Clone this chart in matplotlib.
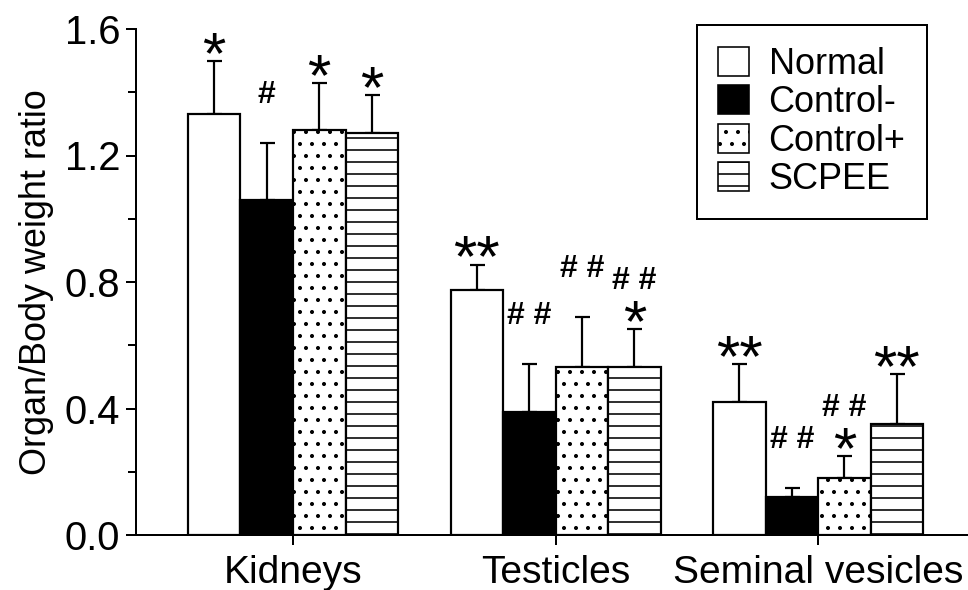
import numpy as np
import matplotlib.pyplot as plt
from matplotlib.patches import Patch

plt.rcParams['font.family'] = ['Liberation Sans', 'DejaVu Sans']
plt.rcParams['hatch.linewidth'] = 1.6

# data
organs = ['Kidneys', 'Testicles', 'Seminal vesicles']
groups = ['Normal', 'Control-', 'Control+', 'SCPEE']
normal     = [1.33, 0.775, 0.42]
control_m  = [1.06, 0.39, 0.12]
control_p  = [1.28, 0.53, 0.18]
scpee      = [1.27, 0.53, 0.35]
normal_err    = [0.17, 0.08, 0.12]
control_m_err = [0.18, 0.15, 0.03]
control_p_err = [0.15, 0.16, 0.07]
scpee_err     = [0.12, 0.12, 0.16]
# significance marks: (star mark, hash mark)
normal_sig    = [('*', ''), ('**', ''), ('**', '')]
control_m_sig = [('', '#'), ('', '# #'), ('', '# #')]
control_p_sig = [('*', ''), ('', '# #'), ('*', '# #')]
scpee_sig     = [('*', ''), ('*', '# #'), ('**', '')]

means = [normal, control_m, control_p, scpee]
errs  = [normal_err, control_m_err, control_p_err, scpee_err]
sigs  = [normal_sig, control_m_sig, control_p_sig, scpee_sig]
colors  = ['white', 'black', 'white', 'white']
hatches = [None, None, '.', '-']

fig = plt.figure(figsize=(968/72, 590/72), dpi=72)
ax = fig.add_axes([136/968, 55/590, 832/968, 506/590])

x = np.arange(len(organs))
w = 0.2
for i, g in enumerate(groups):
    xs = x + (i - 1.5) * w
    ax.bar(xs, means[i], w, color=colors[i], edgecolor='black', linewidth=2.2,
           hatch=hatches[i], label=g, zorder=2)
    ax.errorbar(xs, means[i], yerr=[np.zeros(len(organs)), errs[i]], fmt='none',
                ecolor='black', elinewidth=2.2, capsize=7.5, capthick=2.2, zorder=1)
    for j in range(len(organs)):
        top = means[i][j] + errs[i][j]
        star, hsh = sigs[i][j]
        if star:
            ax.annotate(star, (xs[j], top), xytext=(0, -12), textcoords='offset points',
                        ha='center', va='baseline', fontsize=60)
        if hsh:
            ax.annotate(hsh, (xs[j], top), xytext=(0, 40), textcoords='offset points',
                        ha='center', va='baseline', fontsize=32, fontweight='bold')

ax.set_xlim(-0.598, 2.571)
ax.set_ylim(0, 1.6)
ax.set_yticks([0, 0.4, 0.8, 1.2, 1.6])
ax.set_yticklabels(['0.0', '0.4', '0.8', '1.2', '1.6'])
ax.set_yticks([0.2, 0.6, 1.0, 1.4], minor=True)
ax.set_xticks(x)
ax.set_xticklabels(organs)
ax.tick_params(axis='y', labelsize=40, width=2, length=10, pad=6)
ax.tick_params(axis='y', which='minor', width=2, length=8)
ax.tick_params(axis='x', labelsize=39, width=2, length=10, pad=10)
ax.set_ylabel('Organ/Body weight ratio', fontsize=36, labelpad=10)
for s in ['top', 'right']:
    ax.spines[s].set_visible(False)
for s in ['left', 'bottom']:
    ax.spines[s].set_linewidth(2)

handles = [Patch(facecolor=colors[i], edgecolor='black', hatch=hatches[i], linewidth=1.6)
           for i in range(len(groups))]
leg = ax.legend(handles, groups, loc='upper right', bbox_to_anchor=(927/968, 1 - 25/590),
                bbox_transform=fig.transFigure, borderaxespad=0, fontsize=36,
                fancybox=False, edgecolor='black', handlelength=0.86, handleheight=0.86,
                handletextpad=0.53, labelspacing=0.1, borderpad=0.6)
leg.get_frame().set_linewidth(2)
leg.get_frame().set_alpha(1)

fig.savefig('out.png', dpi=72)
